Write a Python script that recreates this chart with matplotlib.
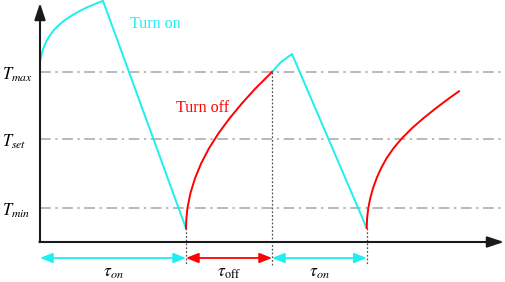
import numpy as np
import matplotlib
matplotlib.use('Agg')
import matplotlib.pyplot as plt

plt.rcParams['font.family'] = ['Liberation Serif', 'DejaVu Serif']
plt.rcParams['mathtext.fontset'] = 'stix'

# temperature levels
T_max = 17.0
T_set = 10.3
T_min = 3.4
level_labels = [r'$T_{max}$', r'$T_{set}$', r'$T_{min}$']
levels = [T_max, T_set, T_min]

# switching instants (start, off, on, off)
t_switch = [0.0, 14.6, 23.2, 32.67]

# heating (turn on) segments
on1_t = [0.0, 0.2, 0.4, 0.63, 0.97, 1.4, 1.87, 2.47, 3.13, 3.97, 4.8, 5.63, 6.3, 14.6]
on1_T = [18.0, 18.95, 19.53, 20.07, 20.63, 21.2, 21.68, 22.18, 22.62, 23.1, 23.51, 23.85, 24.12, 1.37]
on2_t = [23.2, 24.1, 25.2, 32.67]
on2_T = [17.0, 18.0, 18.8, 1.4]

# cooling (turn off) segments
off1_t = [14.6, 14.64, 14.74, 15.04, 15.5, 16.12, 16.9, 17.85, 18.96, 20.2, 21.56, 23.2]
off1_T = [1.37, 2.37, 3.37, 4.87, 6.37, 7.87, 9.37, 10.87, 12.37, 13.87, 15.37, 17.0]
off2_t = [32.67, 32.71, 32.83, 33.03, 33.31, 33.67, 34.12, 34.67, 35.37,
          36.22, 37.22, 38.37, 39.62, 40.95, 41.9]
off2_T = [1.4, 2.4, 3.4, 4.4, 5.4, 6.4, 7.4, 8.4, 9.4,
          10.4, 11.4, 12.4, 13.4, 14.4, 15.07]

interval_labels = [r'$\tau_{on}$', r'$\tau_{\mathrm{off}}$', r'$\tau_{on}$']

cyan = '#1ceef2'
red = '#ff0000'

fig = plt.figure(figsize=(5.05, 2.82), dpi=100)
ax = fig.add_axes([0, 0, 1, 1])
ax.set_xlim(-4, 46.5)
ax.set_ylim(-4, 24.2)
ax.axis('off')

# reference levels
for lv, lab in zip(levels, level_labels):
    ax.plot([0, 46.3], [lv, lv], color='#a6a6a6', lw=1.1,
            dashes=[7, 3, 1.5, 3])
    ax.text(-3.8, lv - 0.75, lab, fontsize=12, ha='left', va='baseline')

# axes with arrows
ax.annotate('', xy=(0, 23.9), xytext=(0, 0),
            arrowprops=dict(arrowstyle='-|>,head_length=1.0,head_width=0.33',
                            color='#1a1a1a', lw=1.5, shrinkA=0, shrinkB=0))
ax.annotate('', xy=(46.4, 0), xytext=(-0.07, 0),
            arrowprops=dict(arrowstyle='-|>,head_length=1.0,head_width=0.33',
                            color='#1a1a1a', lw=1.5, shrinkA=0, shrinkB=0))

# curves
ax.plot(on1_t, on1_T, color=cyan, lw=1.4)
ax.plot(on2_t, on2_T, color=cyan, lw=1.4)
ax.plot(off1_t, off1_T, color=red, lw=1.4)
ax.plot(off2_t, off2_T, color=red, lw=1.4)

ax.text(9.0, 21.4, 'Turn on', color=cyan, fontsize=11.5, ha='left', va='baseline')
ax.text(13.6, 13.0, 'Turn off', color=red, fontsize=11.5, ha='left', va='baseline')

# dotted markers at switching instants
starts = [on1_T[-1], off1_T[-1], on2_T[-1]]
for ts, Ts in zip(t_switch[1:], starts):
    ax.plot([ts, ts], [Ts, -2.3], color='#555555', lw=0.9, ls=(0, (1.5, 1.5)))

# interval arrows
arrow_cols = [cyan, red, cyan]
for i in range(3):
    a, b = t_switch[i], t_switch[i + 1]
    ax.annotate('', xy=(b, -1.6), xytext=(a, -1.6),
                arrowprops=dict(arrowstyle='<|-|>,head_length=0.75,head_width=0.3',
                                color=arrow_cols[i], lw=1.3, shrinkA=0, shrinkB=0))
    ax.text((a + b) / 2, -3.45, interval_labels[i], fontsize=12.5,
            ha='center', va='baseline')

fig.savefig('out.png', dpi=100)
